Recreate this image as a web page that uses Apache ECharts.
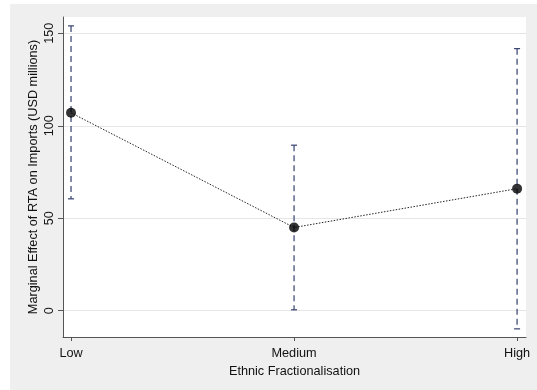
<!DOCTYPE html>
<html>
<head>
<meta charset="utf-8">
<script src="https://cdn.jsdelivr.net/npm/echarts@6/dist/echarts.min.js"></script>
<style>
  html, body { margin: 0; padding: 0; background: #ffffff; }
  #chart { position: absolute; left: 10px; top: 4px; width: 527px; height: 386px; }
</style>
</head>
<body>
<div id="chart"></div>
<script>
// Marginal effect of RTA on imports by level of ethnic fractionalisation
const categories = ['Low', 'Medium', 'High'];
const effects = [107, 45, 66];
const ciLower = [60.5, 0.5, -9.8];
const ciUpper = [154, 89.5, 141.7];
const yTicks = [0, 50, 100, 150];

const xIdx = categories.map((_, i) => i);
const pointData = effects.map((v, i) => [i, v]);
const ciData = effects.map((_, i) => [i, ciLower[i], ciUpper[i]]);

const font = 'Liberation Sans, Arial, Helvetica, sans-serif';
const chart = echarts.init(document.getElementById('chart'));

chart.setOption({
  backgroundColor: '#efefef',
  animation: false,
  grid: {
    left: 53, right: 11, top: 13, bottom: 53,
    show: true, backgroundColor: '#ffffff', borderWidth: 0
  },
  xAxis: {
    type: 'value',
    min: -0.036, max: 2.04,
    name: 'Ethnic Fractionalisation',
    nameLocation: 'middle', nameGap: 24,
    nameTextStyle: { fontFamily: font, fontSize: 12.7, color: '#111' },
    axisLine: { show: true, onZero: false, lineStyle: { color: '#555', width: 1 } },
    axisTick: { show: true, length: 4, customValues: xIdx, lineStyle: { color: '#555' } },
    axisLabel: {
      customValues: xIdx, margin: 10,
      fontFamily: font, fontSize: 12.7, color: '#111',
      formatter: v => categories[Math.round(v)]
    },
    splitLine: { show: false }
  },
  yAxis: {
    type: 'value',
    min: -14.2, max: 158.8,
    name: 'Marginal Effect of RTA on Imports (USD millions)',
    nameLocation: 'middle', nameGap: 23, nameRotate: 90,
    nameMoveOverlap: false,
    nameTextStyle: { fontFamily: font, fontSize: 12.7, color: '#111' },
    axisLine: { show: true, onZero: false, lineStyle: { color: '#555', width: 1 } },
    axisTick: { show: true, length: 5, customValues: yTicks, lineStyle: { color: '#555' } },
    axisLabel: {
      customValues: yTicks, rotate: 90, margin: 7,
      fontFamily: font, fontSize: 12.7, color: '#111'
    },
    splitLine: { show: true, lineStyle: { color: '#e6e6e6', width: 1 } }
  },
  series: [
    {
      type: 'custom',
      data: ciData,
      z: 2,
      renderItem: (params, api) => {
        const x = api.value(0);
        const lo = api.coord([x, api.value(1)]);
        const hi = api.coord([x, api.value(2)]);
        const cap = 3;
        const style = { stroke: '#34406e', lineWidth: 1.2, fill: null };
        return {
          type: 'group',
          children: [
            { type: 'line', shape: { x1: hi[0], y1: hi[1], x2: lo[0], y2: lo[1] },
              style: Object.assign({ lineDash: [6, 4] }, style) },
            { type: 'line', shape: { x1: hi[0] - cap, y1: hi[1], x2: hi[0] + cap, y2: hi[1] }, style },
            { type: 'line', shape: { x1: lo[0] - cap, y1: lo[1], x2: lo[0] + cap, y2: lo[1] }, style }
          ]
        };
      }
    },
    {
      type: 'line',
      data: pointData,
      symbol: 'none',
      z: 3,
      lineStyle: { color: '#222', width: 1, type: [1.5, 1.5] }
    },
    {
      type: 'scatter',
      data: pointData,
      symbol: 'circle',
      symbolSize: 10,
      z: 4,
      itemStyle: { color: '#000' }
    }
  ]
});
</script>
</body>
</html>
